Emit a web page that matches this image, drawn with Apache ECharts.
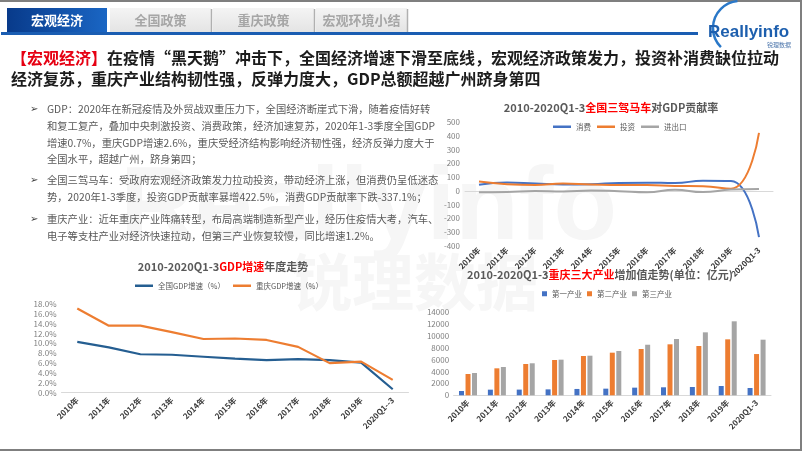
<!DOCTYPE html>
<html><head><meta charset="utf-8">
<script src="https://cdn.jsdelivr.net/npm/echarts@6/dist/echarts.min.js"></script>
<style>html,body{margin:0;padding:0;background:#fff}#c{width:802px;height:451px}</style>
</head><body><div id="c"></div>
<script>
const FONT = '"Noto Sans CJK SC","Noto Sans",sans-serif';
// Chart A: 三驾马车对GDP贡献率 (%)
const catA = ['2010年','2011年','2012年','2013年','2014年','2015年','2016年','2017年','2018年','2019年','2020Q1-3'];
const consumption = [44, 61, 54, 47, 49, 58, 60, 57, 74, 72, -337.1];
const investment  = [68, 49, 43, 53, 46, 43, 42, 36, 33, 16, 422.5];
const netExport   = [-11, -8, -1, -4, 3, -2, -10, 8, -9, 9, 13];
// Chart B: GDP增速 (%)
const catB = ['2010年','2011年','2012年','2013年','2014年','2015年','2016年','2017年','2018年','2019年','2020Q1--3'];
const gdpNation = [10.3, 9.2, 7.8, 7.7, 7.3, 6.9, 6.6, 6.8, 6.6, 6.1, 0.7];
const gdpCQ     = [17.1, 13.6, 13.6, 12.3, 10.9, 11.0, 10.7, 9.3, 6.0, 6.3, 2.6];
// Chart C: 重庆三大产业增加值 (亿元)
const catC = ['2010年','2011年','2012年','2013年','2014年','2015年','2016年','2017年','2018年','2019年','2020Q1-3'];
const primary   = [730, 950, 960, 1000, 1070, 1120, 1290, 1350, 1400, 1570, 1230];
const secondary = [3590, 4550, 5280, 5950, 6630, 7190, 7810, 8600, 8320, 9440, 6960];
const tertiary  = [3760, 4770, 5400, 6010, 6680, 7470, 8530, 9500, 10620, 12480, 9380];
// Slide texts
const tabs = ['宏观经济','全国政策','重庆政策','宏观环境小结'];
const headRed = '【宏观经济】';
const headLine1 = '在疫情“黑天鹅”冲击下，全国经济增速下滑至底线，宏观经济政策发力，投资补消费缺位拉动';
const headLine2 = '经济复苏，重庆产业结构韧性强，反弹力度大，GDP总额超越广州跻身第四';
const bullets = [
  ['GDP：2020年在新冠疫情及外贸战双重压力下，全国经济断崖式下滑，随着疫情好转',
   '和复工复产，叠加中央刺激投资、消费政策，经济加速复苏，2020年1-3季度全国GDP',
   '增速0.7%，重庆GDP增速2.6%，重庆受经济结构影响经济韧性强，经济反弹力度大于',
   '全国水平，超越广州，跻身第四；'],
  ['全国三驾马车：受政府宏观经济政策发力拉动投资，带动经济上涨，但消费仍呈低迷态',
   '势，2020年1-3季度，投资GDP贡献率暴增422.5%，消费GDP贡献率下跌-337.1%；'],
  ['重庆产业：近年重庆产业阵痛转型，布局高端制造新型产业，经历住疫情大考，汽车、',
   '电子等支柱产业对经济快速拉动，但第三产业恢复较慢，同比增速1.2%。']
];

const chart = echarts.init(document.getElementById('c'), null, {renderer:'canvas'});

const els = [];
// watermark
els.push({type:'text', z:-10, silent:true, style:{text:'Reallyinfo', x:120, y:210, font:'bold 104px "Liberation Sans", sans-serif', fill:'#f6f6f6', verticalAlign:'middle'}});
els.push({type:'text', z:-10, silent:true, style:{text:'锐理数据', x:290, y:282, font:'bold 62px '+FONT, fill:'#f6f6f6', verticalAlign:'middle'}});
// border
els.push({type:'line', shape:{x1:0,y1:1,x2:802,y2:1}, style:{stroke:'#7f7f7f', lineWidth:2}});
els.push({type:'line', shape:{x1:801,y1:0,x2:801,y2:451}, style:{stroke:'#7f7f7f', lineWidth:2}});
els.push({type:'line', shape:{x1:0,y1:450,x2:802,y2:450}, style:{stroke:'#7f7f7f', lineWidth:2}});
// tabs
const tabX = [[7,107],[110,211],[213,314],[316,407]];
tabX.forEach((t,i)=>{
  const active = i===0;
  els.push({type:'rect', shape:{x:t[0], y:8, width:t[1]-t[0], height:24},
    style:{fill: active ? new echarts.graphic.LinearGradient(0,0,1,0,[{offset:0,color:'#083a8a'},{offset:1,color:'#1a66c4'}])
                        : new echarts.graphic.LinearGradient(0,0,0,1,[{offset:0,color:'#f4f4f4'},{offset:1,color:'#e4e4e4'}])}});
  if(!active) els.push({type:'line', shape:{x1:t[1]+0.5,y1:9,x2:t[1]+0.5,y2:32}, style:{stroke:'#b0b0b0', lineWidth:1.5}});
  els.push({type:'text', style:{text:tabs[i], x:(t[0]+t[1])/2, y:20, align:'center', verticalAlign:'middle',
    font:'bold 13px '+FONT, fill: active ? '#ffffff' : '#a6a6a6'}});
});
els.push({type:'rect', shape:{x:1, y:32, width:697, height:3}, style:{fill:'#1a5db2'}});
// logo
els.push({type:'arc', shape:{cx:740, cy:28, r:27, startAngle:Math.PI*0.75, endAngle:Math.PI*1.47, clockwise:true},
  style:{stroke:'#2a78c8', lineWidth:2.5, fill:null}});
els.push({type:'text', style:{text:'Reallyinfo', x:708, y:32, verticalAlign:'middle', font:'bold 17px "Liberation Sans", Arial, sans-serif', fill:'#1d5fae'}});
els.push({type:'text', style:{text:'锐理数据', x:791, y:45, align:'right', verticalAlign:'middle', font:'6px '+FONT, fill:'#4f78ad'}});
// headline
const headRich = {r:{fill:'#e60012', fontSize:16, fontWeight:'bold', fontFamily:FONT}, d:{fill:'#1c1c1c', fontSize:16, fontWeight:'bold', fontFamily:FONT}};
els.push({type:'text', style:{text:'{r|'+headRed+'}{d|'+headLine1+'}', x:11, y:58, verticalAlign:'middle', rich:headRich}});
els.push({type:'text', style:{text:'{d|'+headLine2+'}', x:11, y:78.5, verticalAlign:'middle', rich:headRich}});
// bullets
const bulletY = [[109.5,126.5,143,159.5],[180.5,197],[219,236]];
bullets.forEach((b,i)=>{
  els.push({type:'text', style:{text:'➢', x:30, y:bulletY[i][0], align:'left', verticalAlign:'middle', font:'10px "DejaVu Sans", sans-serif', fill:'#404040'}});
  b.forEach((ln,j)=>{
    els.push({type:'text', style:{text:ln, x:47, y:bulletY[i][j], verticalAlign:'middle', font:'10.3px '+FONT, fill:'#595959'}});
  });
});
// chart titles
function title(x,y,pre,red,post){
  const rich = {g:{fill:'#595959', fontSize:11, fontWeight:'bold', fontFamily:FONT}, r:{fill:'#ff0000', fontSize:11, fontWeight:'bold', fontFamily:FONT}};
  els.push({type:'text', style:{text:'{g|'+pre+'}{r|'+red+'}{g|'+post+'}', x:x, y:y, align:'center', verticalAlign:'middle', rich:rich}});
}
title(611,108,'2010-2020Q1-3','全国三驾马车','对GDP贡献率');
title(223,267,'2010-2020Q1-3','GDP增速','年度走势');
title(600,275,'2010-2020Q1-3','重庆三大产业','增加值走势(单位：亿元)');

const yLab = {fontSize:8, color:'#808080', fontFamily:FONT};
const xLab = {fontSize:8, color:'#3a3a3a', fontWeight:'bold', fontFamily:FONT, rotate:45, interval:0, margin:4};
const axisLine = {show:true, onZero:true, lineStyle:{color:'#d9d9d9', width:1}};
const legText = {fontSize:7.5, color:'#595959', fontFamily:FONT};

chart.setOption({
  animation:false,
  backgroundColor:'#ffffff',
  graphic:{elements:els},
  grid:[
    {left:465, top:122.3, width:308, height:123.4},
    {left:61.5, top:304, width:347, height:88.7},
    {left:453.6, top:312.3, width:317.4, height:83}
  ],
  legend:[
    {data:['消费','投资','进出口'], left:553, top:123, itemWidth:18, itemHeight:2.5, itemGap:6, icon:'rect', textStyle:legText, padding:0},
    {data:['全国GDP增速（%）','重庆GDP增速（%）'], left:135, top:282, itemWidth:18, itemHeight:2.5, itemGap:8, icon:'rect', textStyle:legText, padding:0},
    {data:['第一产业','第二产业','第三产业'], left:542, top:290, itemWidth:5, itemHeight:5, itemGap:5, icon:'rect', textStyle:legText, padding:0}
  ],
  xAxis:[
    {gridIndex:0, type:'category', data:catA, axisTick:{show:false}, axisLine:axisLine, axisLabel:Object.assign({}, xLab, {margin:3})},
    {gridIndex:1, type:'category', data:catB, axisTick:{show:false}, axisLine:axisLine, axisLabel:Object.assign({}, xLab, {margin:6})},
    {gridIndex:2, type:'category', data:catC, axisTick:{show:false}, axisLine:axisLine, axisLabel:Object.assign({}, xLab, {margin:6})}
  ],
  yAxis:[
    {gridIndex:0, type:'value', min:-400, max:500, interval:100, splitLine:{show:false}, axisLine:{show:false}, axisTick:{show:false}, axisLabel:Object.assign({}, yLab, {margin:5})},
    {gridIndex:1, type:'value', min:0, max:18, interval:2, splitLine:{show:false}, axisLine:{show:false}, axisTick:{show:false},
      axisLabel:Object.assign({}, yLab, {margin:5, formatter:v=>v.toFixed(1)+'%'})},
    {gridIndex:2, type:'value', min:0, max:14000, interval:2000, splitLine:{show:false}, axisLine:{show:false}, axisTick:{show:false},
      axisLabel:Object.assign({}, yLab, {margin:4.5, formatter:v=>String(v)})}
  ],
  series:[
    {name:'消费', type:'line', xAxisIndex:0, yAxisIndex:0, data:consumption, smooth:0.5, symbol:'none', lineStyle:{color:'#4472c4', width:2}, itemStyle:{color:'#4472c4'}},
    {name:'投资', type:'line', xAxisIndex:0, yAxisIndex:0, data:investment, smooth:0.5, symbol:'none', lineStyle:{color:'#ed7d31', width:2}, itemStyle:{color:'#ed7d31'}},
    {name:'进出口', type:'line', xAxisIndex:0, yAxisIndex:0, data:netExport, smooth:0.5, symbol:'none', lineStyle:{color:'#a5a5a5', width:2}, itemStyle:{color:'#a5a5a5'}},
    {name:'全国GDP增速（%）', type:'line', xAxisIndex:1, yAxisIndex:1, data:gdpNation, symbol:'none', lineStyle:{color:'#255e91', width:2.2}, itemStyle:{color:'#255e91'}},
    {name:'重庆GDP增速（%）', type:'line', xAxisIndex:1, yAxisIndex:1, data:gdpCQ, symbol:'none', lineStyle:{color:'#ed7d31', width:2.2}, itemStyle:{color:'#ed7d31'}},
    {name:'第一产业', type:'bar', xAxisIndex:2, yAxisIndex:2, data:primary, barWidth:5, barGap:'30%', itemStyle:{color:'#4472c4'}},
    {name:'第二产业', type:'bar', xAxisIndex:2, yAxisIndex:2, data:secondary, barWidth:5, barGap:'30%', itemStyle:{color:'#ed7d31'}},
    {name:'第三产业', type:'bar', xAxisIndex:2, yAxisIndex:2, data:tertiary, barWidth:5, barGap:'30%', itemStyle:{color:'#a5a5a5'}}
  ]
});
</script>
</body></html>
